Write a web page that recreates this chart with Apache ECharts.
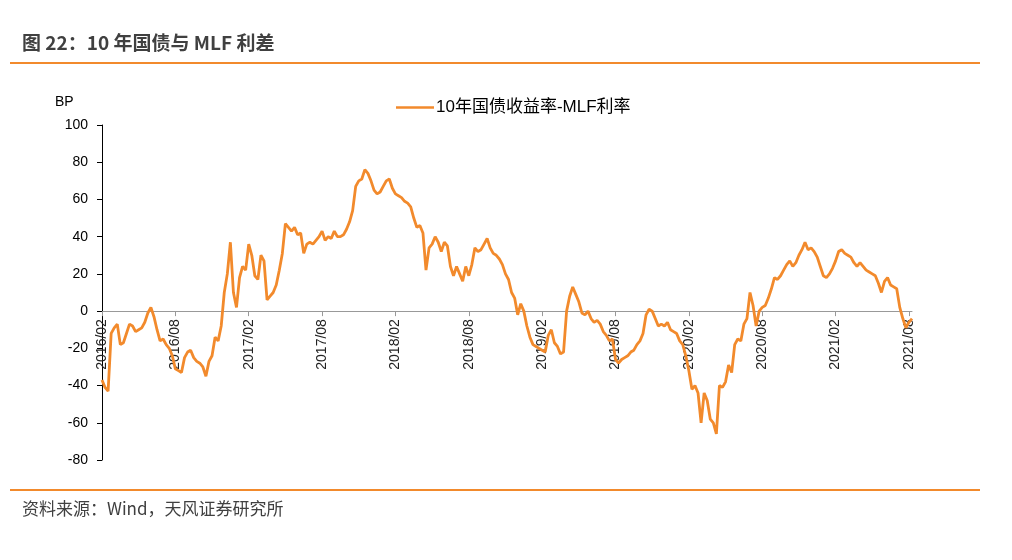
<!DOCTYPE html>
<html>
<head>
<meta charset="utf-8">
<script src="https://cdn.jsdelivr.net/npm/echarts@6/dist/echarts.min.js"></script>
<style>
html,body{margin:0;padding:0;background:#fff;}
#c{width:1012px;height:560px;}
</style>
</head>
<body>
<div id="c"></div>
<script>
// Weekly observation dates (4 per month, from 2016/02 to early 2021/08)
const startYear = 2016, startMonth = 2, pointCount = 266;
const weekDays = ['01', '08', '16', '23'];
const categories = [];
for (let i = 0; i < pointCount; i++) {
  const m = startMonth - 1 + Math.floor(i / 4);
  const y = startYear + Math.floor(m / 12);
  const mm = String(m % 12 + 1).padStart(2, '0');
  categories.push(y + '/' + mm + '/' + weekDays[i % 4]);
}

// 10年国债收益率-MLF利率 (BP)
const spread = [
  -37,-41,-43,-12,-9,-7,-18,-17,-12,-7,
  -8,-11,-10,-9,-6,-1,2,-3,-10,-16,
  -15,-18,-20,-24,-31,-32,-33,-25,-22,-21,
  -25,-27,-28,-30,-35,-27,-24,-14,-16,-8,
  10,20,37,10,2,18,24,22,36,30,
  19,17,30,27,6,8,10,14,22,31,
  47,45,43,45,41,42,31,36,37,36,
  38,40,43,38,40,39,43,40,40,41,
  44,48,54,67,70,71,76,74,70,65,
  63,64,67,70,71,66,63,62,61,59,
  58,56,50,45,46,42,22,34,36,40,
  37,32,37,35,24,19,24,20,16,24,
  19,25,34,32,33,36,39,34,31,30,
  28,25,20,17,10,7,-2,4,0,-8,
  -14,-18,-19,-20,-21,-22,-13,-10,-17,-19,
  -23,-22,0,8,13,9,5,-1,-2,0,
  -4,-6,-5,-7,-11,-13,-16,-15,-26,-28,
  -26,-25,-24,-22,-21,-18,-16,-12,-2,1,
  0,-4,-8,-7,-8,-6,-10,-11,-12,-16,
  -18,-24,-32,-42,-40,-44,-60,-44,-48,-58,
  -60,-66,-40,-41,-38,-29,-33,-18,-15,-16,
  -7,-4,10,3,-8,0,2,3,7,12,
  18,17,19,22,25,27,24,26,30,33,
  37,33,34,32,29,24,19,18,20,23,
  27,32,33,31,30,29,26,24,26,24,
  22,21,20,19,15,10,16,18,14,13,
  12,2,-4,-9,-6,-4
];

const yTicks = { min: -80, max: 100, step: 20 };
const seriesName = '10年国债收益率-MLF利率';
const titleText = '图 22：10 年国债与 MLF 利差';
const sourceText = '资料来源：Wind，天风证券研究所';
const unitText = 'BP';

const orange = '#F28A2C';
const font = '"Liberation Sans", "Noto Sans CJK SC", sans-serif';

const gridTop = 125, gridBottom = 100, chartH = 560;
const plotH = chartH - gridTop - gridBottom;
// axis sits on the zero line: shift it up from the grid bottom
const zeroOffset = -plotH * (0 - yTicks.min) / (yTicks.max - yTicks.min);

const chart = echarts.init(document.getElementById('c'));
chart.setOption({
  animation: false,
  backgroundColor: '#fff',
  textStyle: { fontFamily: font },
  graphic: [
    { type: 'text', left: 22, top: 33, style: { text: titleText, font: 'bold 19px "Noto Sans CJK SC", sans-serif', fill: '#404040' } },
    { type: 'rect', shape: { x: 10, y: 62, width: 970, height: 2 }, style: { fill: orange } },
    { type: 'rect', shape: { x: 10, y: 489, width: 970, height: 2 }, style: { fill: orange } },
    { type: 'text', left: 22, top: 500, style: { text: sourceText, font: '17px "Noto Sans CJK SC", sans-serif', fill: '#404040' } },
    { type: 'text', left: 55, top: 95, style: { text: unitText, font: '14px "Liberation Sans", sans-serif', fill: '#000' } }
  ],
  legend: {
    show: true,
    left: 391, top: 94,
    itemWidth: 38, itemHeight: 14, itemGap: 5,
    textStyle: { fontSize: 17, color: '#000', fontFamily: font, padding: [0, 0, 0, -3] },
    data: [{ name: seriesName, icon: 'path://M0,6L40,6L40,8.5L0,8.5Z' }]
  },
  grid: { left: 102, top: gridTop, right: 100, bottom: gridBottom, containLabel: false },
  xAxis: {
    type: 'category',
    data: categories,
    boundaryGap: false,
    position: 'bottom',
    offset: zeroOffset,
    axisLine: { onZero: false, lineStyle: { color: '#999', width: 1 } },
    axisTick: { show: true, interval: 23, length: 5, lineStyle: { color: '#999' } },
    axisLabel: {
      interval: 23, rotate: 90, margin: 8,
      fontSize: 14, color: '#222', fontFamily: font,
      formatter: v => v.slice(0, 7)
    },
    splitLine: { show: false }
  },
  yAxis: {
    type: 'value',
    min: yTicks.min, max: yTicks.max, interval: yTicks.step,
    axisLine: { show: true, lineStyle: { color: '#000', width: 1 } },
    axisTick: { show: true, length: 5, lineStyle: { color: '#000' } },
    axisLabel: { fontSize: 14, color: '#000', margin: 14, fontFamily: font },
    splitLine: { show: false }
  },
  series: [{
    name: seriesName,
    type: 'line',
    data: spread,
    showSymbol: false,
    symbol: 'none',
    lineStyle: { color: orange, width: 2.8 },
    itemStyle: { color: orange }
  }]
});
</script>
</body>
</html>
